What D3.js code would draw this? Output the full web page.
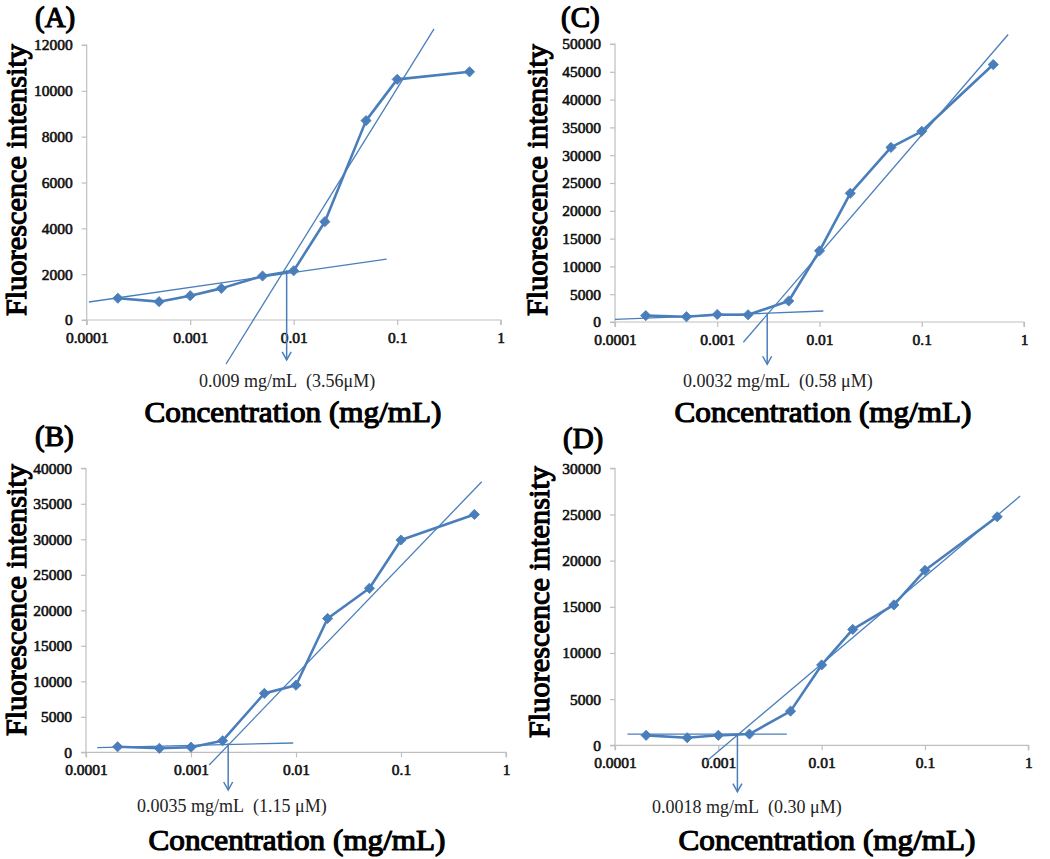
<!DOCTYPE html>
<html><head><meta charset="utf-8">
<script src="https://cdn.jsdelivr.net/npm/d3@7"></script>
<style>body{margin:0;background:#fff}</style>
</head><body>
<svg id="chart" width="1050" height="859"></svg>
<script>
// ---------- data ----------
const concentrations = [0.0002, 0.0005, 0.001, 0.002, 0.005, 0.01, 0.02, 0.05, 0.1, 0.5];
const valuesA = [950, 800, 1060, 1380, 1920, 2150, 4290, 8700, 10500, 10830];
const valuesB = [780, 560, 720, 1630, 8300, 9450, 18850, 23100, 29900, 33500];
const valuesC = [1150, 950, 1350, 1300, 3780, 12800, 23150, 31400, 34300, 46300];
const valuesD = [1080, 820, 1080, 1220, 3700, 8700, 12550, 15200, 18950, 24750];

const xTicks = [0.0001, 0.001, 0.01, 0.1, 1];
const xTickLabels = ["0.0001", "0.001", "0.01", "0.1", "1"];
const yTicksA = [0, 2000, 4000, 6000, 8000, 10000, 12000];
const yTicksB = [0, 5000, 10000, 15000, 20000, 25000, 30000, 35000, 40000];
const yTicksC = [0, 5000, 10000, 15000, 20000, 25000, 30000, 35000, 40000, 45000, 50000];
const yTicksD = [0, 5000, 10000, 15000, 20000, 25000, 30000];

// fitted straight lines: [[x0, y0], [x1, y1]] in mg/mL and intensity
const baseFitA = [[0.000105, 785], [0.079, 2660]];
const slopeFitA = [[0.00222, -1920], [0.227, 12700]];
const baseFitB = [[0.000128, 650], [0.0094, 1310]];
const slopeFitB = [[0.00149, -1790], [0.587, 38100]];
const baseFitC = [[0.0001, 490], [0.0109, 1980]];
const slopeFitC = [[0.0018, -3650], [0.70, 51700]];
const baseFitD = [[0.000132, 1220], [0.0046, 1220]];
const slopeFitD = [[0.000773, -1700], [0.834, 27000]];

// cutoff arrows: [x, yTop, yBottom]
const cutoffA = [0.00855, 2180, -1745];
const cutoffB = [0.00226, 1270, -5310];
const cutoffC = [0.00308, 1560, -7600];
const cutoffD = [0.00153, 1220, -5020];

const annotationA = "0.009 mg/mL\u00a0\u00a0(3.56\u03bcM)";
const annotationB = "0.0035 mg/mL\u00a0\u00a0(1.15 \u03bcM)";
const annotationC = "0.0032 mg/mL\u00a0\u00a0(0.58 \u03bcM)";
const annotationD = "0.0018 mg/mL\u00a0\u00a0(0.30 \u03bcM)";

const panelLabels = ["(A)", "(B)", "(C)", "(D)"];
const xTitle = "Concentration (mg/mL)";
const yTitle = "Fluorescence intensity";

// ---------- layout ----------
const panels = [
  {label: panelLabels[0], values: valuesA, yTicks: yTicksA, base: baseFitA, slope: slopeFitA, cut: cutoffA, ann: annotationA,
   left: 86.7, right: 500.7, top: 45, bottom: 320, yMax: 12000,
   labelPos: [35, 27], xTitlePos: [293, 421.5], yTitlePos: [26, 180], annPos: [199, 387]},
  {label: panelLabels[1], values: valuesB, yTicks: yTicksB, base: baseFitB, slope: slopeFitB, cut: cutoffB, ann: annotationB,
   left: 86, right: 506, top: 468.3, bottom: 752.3, yMax: 40000,
   labelPos: [35, 446], xTitlePos: [297, 850], yTitlePos: [26, 600], annPos: [137, 811.5]},
  {label: panelLabels[2], values: valuesC, yTicks: yTicksC, base: baseFitC, slope: slopeFitC, cut: cutoffC, ann: annotationC,
   left: 615, right: 1024, top: 44, bottom: 322, yMax: 50000,
   labelPos: [561, 27], xTitlePos: [823, 421.5], yTitlePos: [547, 180], annPos: [683, 387]},
  {label: panelLabels[3], values: valuesD, yTicks: yTicksD, base: baseFitD, slope: slopeFitD, cut: cutoffD, ann: annotationD,
   left: 615, right: 1028.3, top: 468.3, bottom: 745.3, yMax: 30000,
   labelPos: [563, 448], xTitlePos: [827, 850], yTitlePos: [549, 602], annPos: [652, 813]}
];

const blue = "#4a7ebb";
const axisGray = "#bfbfbf";
const serif = "Liberation Serif";

const svg = d3.select("#chart");

// faux-bold serif text (stroke thickening of the regular serif face)
function bold(sel, size, sw) {
  return sel.attr("font-family", serif).attr("font-weight", "normal")
    .attr("font-size", size).attr("fill", "#000")
    .attr("stroke", "#000").attr("stroke-width", sw).attr("stroke-linejoin", "round");
}

panels.forEach(p => {
  const g = svg.append("g");
  const x = d3.scaleLog().domain([0.0001, 1]).range([p.left, p.right]);
  const y = d3.scaleLinear().domain([0, p.yMax]).range([p.bottom, p.top]);

  // axes
  const xAxis = d3.axisBottom(x).tickValues(xTicks).tickSize(5)
    .tickFormat((d, i) => xTickLabels[i]);
  const gx = g.append("g").attr("transform", `translate(0,${p.bottom})`).call(xAxis);
  const yAxis = d3.axisLeft(y).tickValues(p.yTicks).tickSize(5).tickFormat(d3.format("d"));
  const gy = g.append("g").attr("transform", `translate(${p.left},0)`).call(yAxis);
  [gx, gy].forEach(a => {
    a.attr("font-family", serif);
    a.select(".domain").attr("stroke", axisGray).attr("stroke-width", 1.2);
    a.selectAll(".tick line").attr("stroke", axisGray).attr("stroke-width", 1.2);
    bold(a.selectAll(".tick text"), 15.5, 0.6).attr("fill", "#111").attr("stroke", "#111");
  });
  gx.selectAll(".domain").attr("d", `M${p.left},5V0H${p.right}V5`);
  gx.selectAll(".tick text").attr("y", 12).attr("dy", "0.71em");
  gy.selectAll(".domain").attr("d", `M-5,${p.top}H0V${p.bottom}H-5`);
  gy.selectAll(".tick text").attr("x", -14);

  // fit lines
  const line = d3.line().x(d => x(d[0])).y(d => y(d[1]));
  [p.base, p.slope].forEach(f => {
    g.append("path").attr("d", line(f)).attr("fill", "none")
      .attr("stroke", blue).attr("stroke-width", 1.3);
  });

  // data series
  const pts = concentrations.map((c, i) => [c, p.values[i]]);
  g.append("path").attr("d", line(pts)).attr("fill", "none")
    .attr("stroke", blue).attr("stroke-width", 2.6).attr("stroke-linejoin", "round");
  const sym = d3.symbol().type(d3.symbolSquare).size(52);
  g.selectAll(".m").data(pts).enter().append("path")
    .attr("d", sym)
    .attr("transform", d => `translate(${x(d[0])},${y(d[1])}) rotate(45)`)
    .attr("fill", blue).attr("stroke", blue).attr("stroke-width", 0.8);

  // cutoff arrow
  const ax = x(p.cut[0]), ay0 = y(p.cut[1]), ay1 = y(p.cut[2]);
  g.append("line").attr("x1", ax).attr("x2", ax).attr("y1", ay0).attr("y2", ay1)
    .attr("stroke", blue).attr("stroke-width", 1.5);
  g.append("path").attr("d", `M${ax - 4.5},${ay1 - 8}L${ax},${ay1}L${ax + 4.5},${ay1 - 8}`)
    .attr("fill", "none").attr("stroke", blue).attr("stroke-width", 1.5);

  // annotation
  g.append("text").attr("x", p.annPos[0]).attr("y", p.annPos[1])
    .attr("font-family", serif).attr("font-size", 18).attr("fill", "#222")
    .text(p.ann);

  // titles
  bold(g.append("text").attr("x", p.xTitlePos[0]).attr("y", p.xTitlePos[1])
    .attr("text-anchor", "middle"), 30, 1.2)
    .attr("textLength", 297).attr("lengthAdjust", "spacingAndGlyphs").text(xTitle);
  bold(g.append("text").attr("transform", `translate(${p.yTitlePos[0]},${p.yTitlePos[1]}) rotate(-90)`)
    .attr("text-anchor", "middle"), 30, 1.2)
    .attr("textLength", 272).attr("lengthAdjust", "spacingAndGlyphs").text(yTitle);
  bold(g.append("text").attr("x", p.labelPos[0]).attr("y", p.labelPos[1]), 29, 1.2)
    .text(p.label);
});
</script>
</body></html>
